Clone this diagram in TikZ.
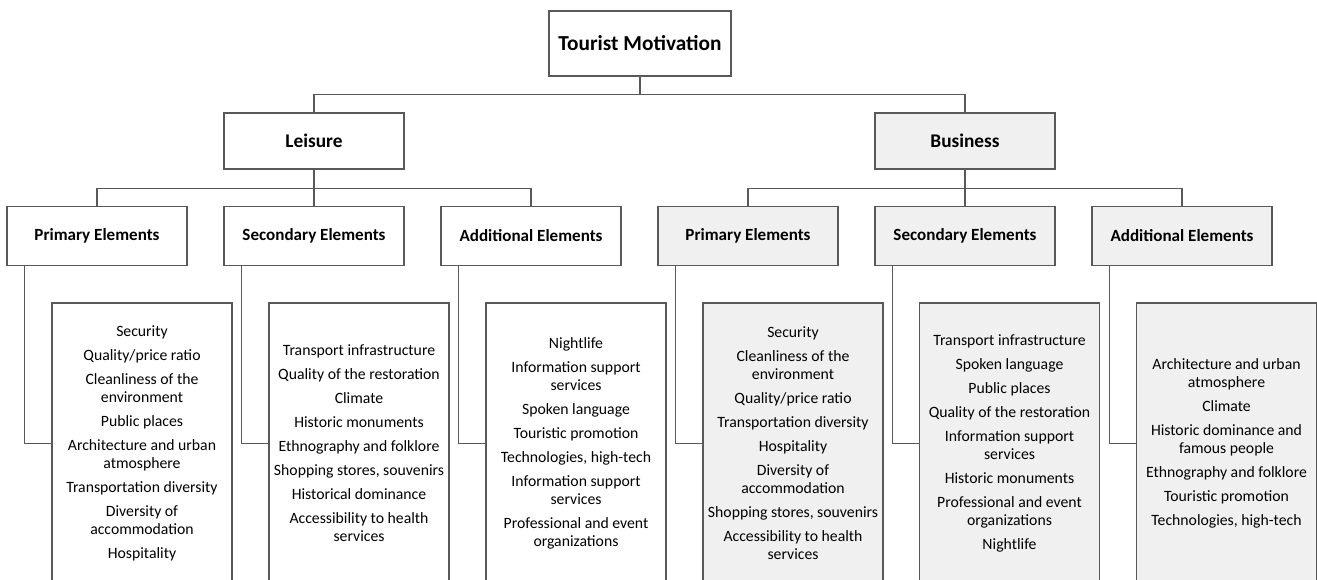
\documentclass[tikz,border=0pt]{standalone}
\usepackage{fontspec}
\setmainfont{Carlito}
\usepackage{tikz}

\begin{document}
\begin{tikzpicture}[x=0.75pt,y=-0.75pt,
  box/.style={draw=black!65,line width=0.9pt,fill=white,align=center,inner sep=0pt,minimum width=135pt},
  grey/.style={fill=black!6},
  head/.style={box,minimum width=136.5pt,minimum height=48.75pt,font=\fontsize{16}{19}\selectfont\bfseries},
  kind/.style={box,minimum height=42pt,font=\fontsize{14.5}{17}\selectfont\bfseries},
  elem/.style={box,minimum height=44.25pt,font=\fontsize{12.8}{15}\selectfont\bfseries},
  list/.style={box,minimum height=210.75pt,font=\fontsize{11.8}{13.5}\selectfont},
  link/.style={draw=black!65,line width=0.9pt}]
\useasboundingbox (0,0) rectangle (1317,579);

\node[head] (tm) at (640,43.5) {Tourist Motivation};
\node[kind] (leis) at (314,141) {Leisure};
\node[kind,grey] (biz) at (965,141) {Business};

\node[elem] (lp) at (97,236) {Primary Elements};
\node[elem] (ls) at (314,236) {Secondary Elements};
\node[elem] (la) at (531,236) {Additional Elements};
\node[elem,grey] (bp) at (748,236) {Primary Elements};
\node[elem,grey] (bs) at (965,236) {Secondary Elements};
\node[elem,grey] (ba) at (1182,236) {Additional Elements};

\node[list] (lpl) at (142,443.5) {Security\\[4.5pt] Quality/price ratio\\[4.5pt] Cleanliness of the\\ environment\\[4.5pt]
  Public places\\[4.5pt] Architecture and urban\\ atmosphere\\[4.5pt] Transportation diversity\\[4.5pt]
  Diversity of\\ accommodation\\[4.5pt] Hospitality};
\node[list] (lsl) at (359,443.5) {Transport infrastructure\\[4.5pt] Quality of the restoration\\[4.5pt] Climate\\[4.5pt]
  Historic monuments\\[4.5pt] Ethnography and folklore\\[4.5pt] Shopping stores, souvenirs\\[4.5pt]
  Historical dominance\\[4.5pt] Accessibility to health\\ services};
\node[list] (lal) at (576,443.5) {Nightlife\\[4.5pt] Information support\\ services\\[4.5pt] Spoken language\\[4.5pt]
  Touristic promotion\\[4.5pt] Technologies, high-tech\\[4.5pt] Information support\\ services\\[4.5pt]
  Professional and event\\ organizations};
\node[list,grey] (bpl) at (793,443.5) {Security\\[4.5pt] Cleanliness of the\\ environment\\[4.5pt] Quality/price ratio\\[4.5pt]
  Transportation diversity\\[4.5pt] Hospitality\\[4.5pt] Diversity of\\ accommodation\\[4.5pt]
  Shopping stores, souvenirs\\[4.5pt] Accessibility to health\\ services};
\node[list,grey] (bsl) at (1009.5,443.5) {Transport infrastructure\\[4.5pt] Spoken language\\[4.5pt] Public places\\[4.5pt]
  Quality of the restoration\\[4.5pt] Information support\\ services\\[4.5pt] Historic monuments\\[4.5pt]
  Professional and event\\ organizations\\[4.5pt] Nightlife};
\node[list,grey] (bal) at (1226.5,443.5) {Architecture and urban\\ atmosphere\\[4.5pt] Climate\\[4.5pt]
  Historic dominance and\\ famous people\\[4.5pt] Ethnography and folklore\\[4.5pt]
  Touristic promotion\\[4.5pt] Technologies, high-tech};

% tree
\draw[link] (tm.south) -- ++(0,18) -| (leis.north);
\draw[link] (tm.south) -- ++(0,18) -| (biz.north);
\draw[link] (leis.south) -- ++(0,19) -| (lp.north);
\draw[link] (leis.south) -- (ls.north);
\draw[link] (leis.south) -- ++(0,19) -| (la.north);
\draw[link] (biz.south) -- ++(0,19) -| (bp.north);
\draw[link] (biz.south) -- (bs.north);
\draw[link] (biz.south) -- ++(0,19) -| (ba.north);

% element lists
\draw[link] ([xshift=13.5pt]lp.south west) |- (lpl.west);
\draw[link] ([xshift=13.5pt]ls.south west) |- (lsl.west);
\draw[link] ([xshift=13.5pt]la.south west) |- (lal.west);
\draw[link] ([xshift=13.5pt]bp.south west) |- (bpl.west);
\draw[link] ([xshift=13.5pt]bs.south west) |- (bsl.west);
\draw[link] ([xshift=13.5pt]ba.south west) |- (bal.west);
\end{tikzpicture}
\end{document}
